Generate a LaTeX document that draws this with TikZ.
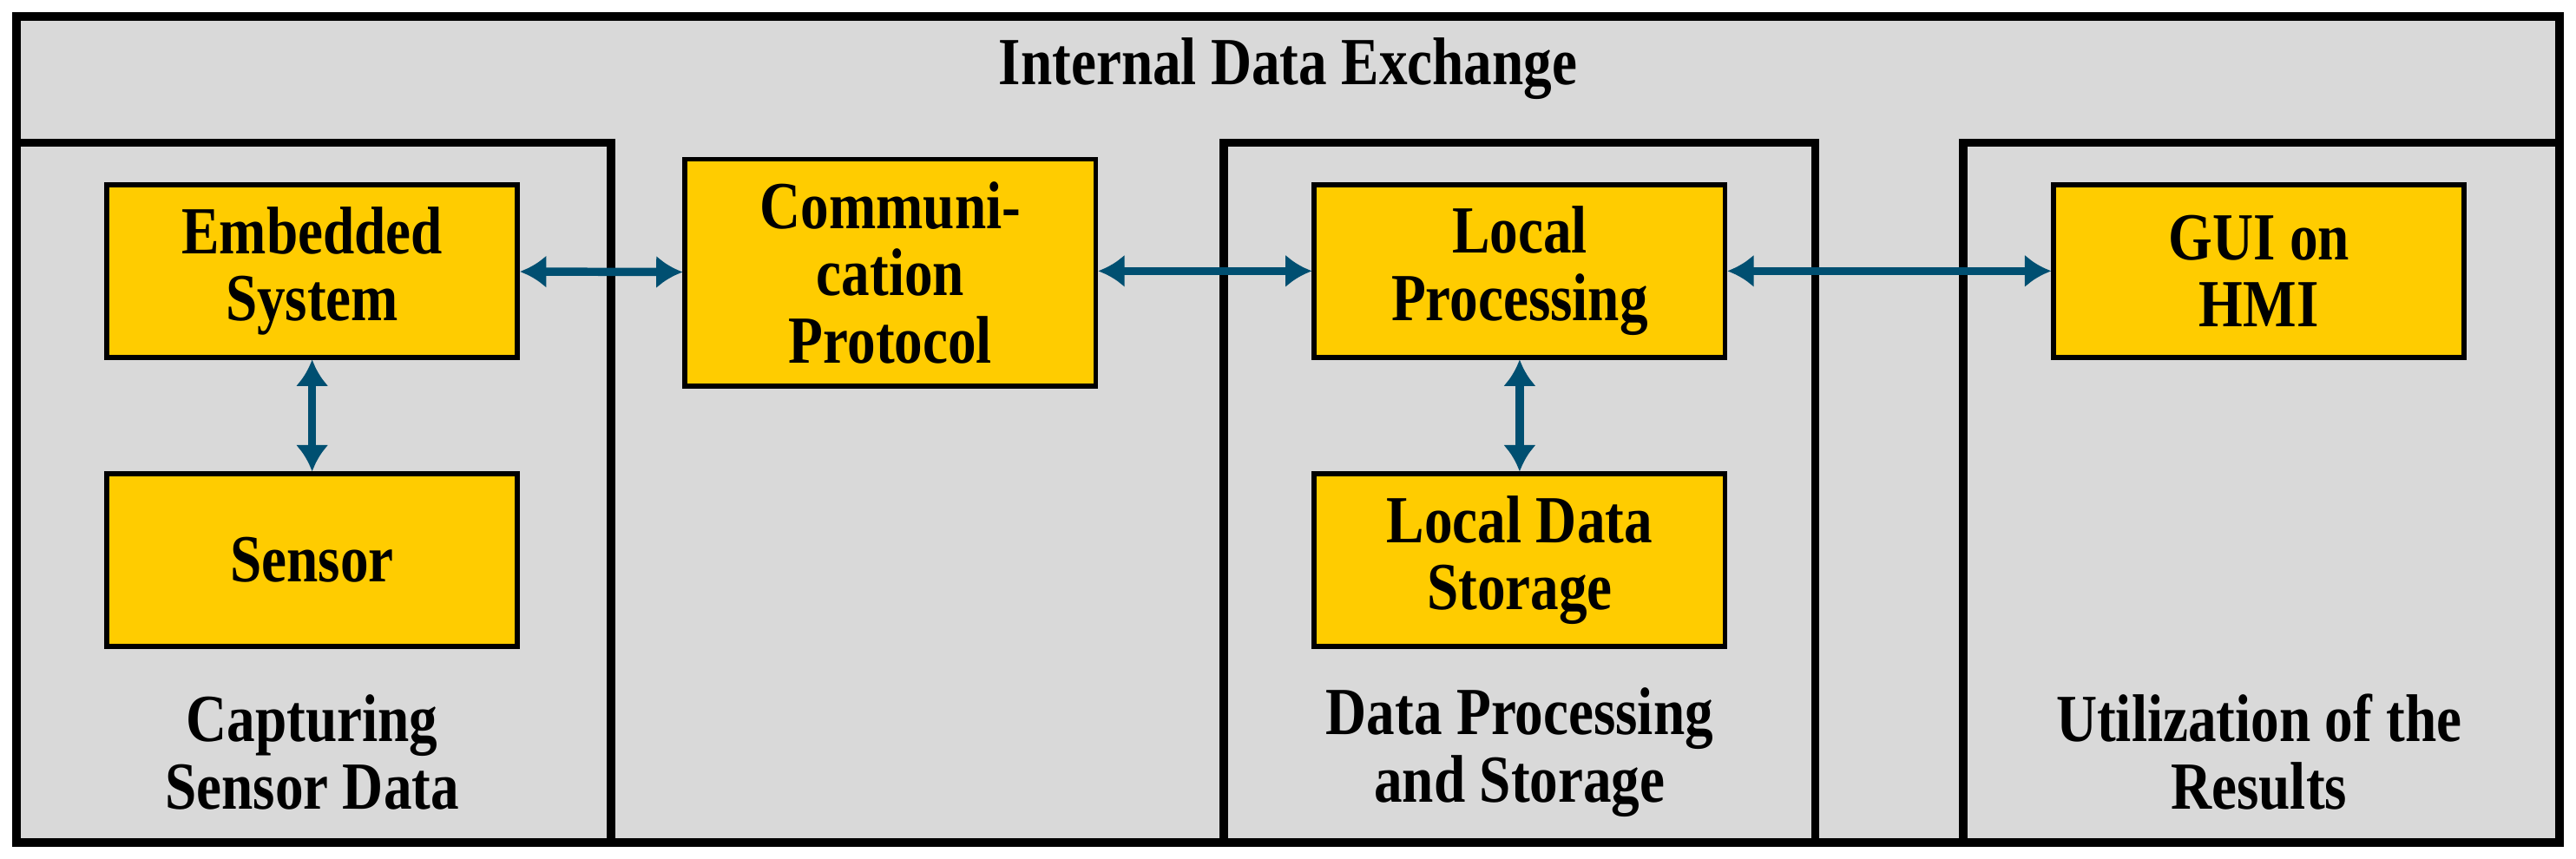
\documentclass[tikz,border=0pt]{standalone}
\usepackage{fontspec}
\setmainfont{Liberation Serif}[FakeStretch=0.84]
\usetikzlibrary{arrows.meta}
\definecolor{bg}{RGB}{217,217,217}
\definecolor{yel}{RGB}{255,204,0}
\definecolor{arr}{RGB}{0,79,113}
\begin{document}
\begin{tikzpicture}[x=1pt,y=-1pt,
  panel/.style={draw=black,line width=5pt},
  blk/.style={draw=black,line width=3pt,fill=yel,minimum width=250pt,minimum height=105pt,align=center,font=\fontsize{41}{41}\selectfont\bfseries,inner sep=0pt},
  lab/.style={align=center,font=\fontsize{41}{41}\selectfont\bfseries},
  con/.style={arr,line width=5pt,{Latex[length=16pt,width=20pt]}-{Latex[length=16pt,width=20pt]}}]
\useasboundingbox (0,0) rectangle (1568,523);
\fill[bg] (10,10) rectangle (1558,513);
\draw[panel] (10,10) rectangle (1558,513);
\draw[panel] (10,87) rectangle (372,513);
\draw[panel] (745,87) rectangle (1105,513);
\draw[panel] (1195,87) rectangle (1558,513);
\node[lab] (title) at (784,42) {Internal Data Exchange};
\node[blk] (emb) at (190,165) {Embedded\\System};
\node[blk] (sen) at (190,341) {Sensor};
\node[blk,minimum height=138pt] (com) at (542,166) {Communi-\\cation\\Protocol};
\node[blk] (lp) at (925,165) {Local\\Processing};
\node[blk] (lds) at (925,341) {Local Data\\Storage};
\node[blk] (gui) at (1375,165) {GUI on\\HMI};
\node[lab] (l1) at (190,458) {Capturing\\Sensor Data};
\node[lab] (l2) at (925,458) {Data Processing\\and Storage};
\node[lab] (l3) at (1375,458) {Utilization of the\\Results};
\draw[con] (emb) -- (com);
\draw[con] (com.east|-lp) -- (lp);
\draw[con] (lp) -- (gui);
\draw[con] (emb) -- (sen);
\draw[con] (lp) -- (lds);
\end{tikzpicture}
\end{document}
